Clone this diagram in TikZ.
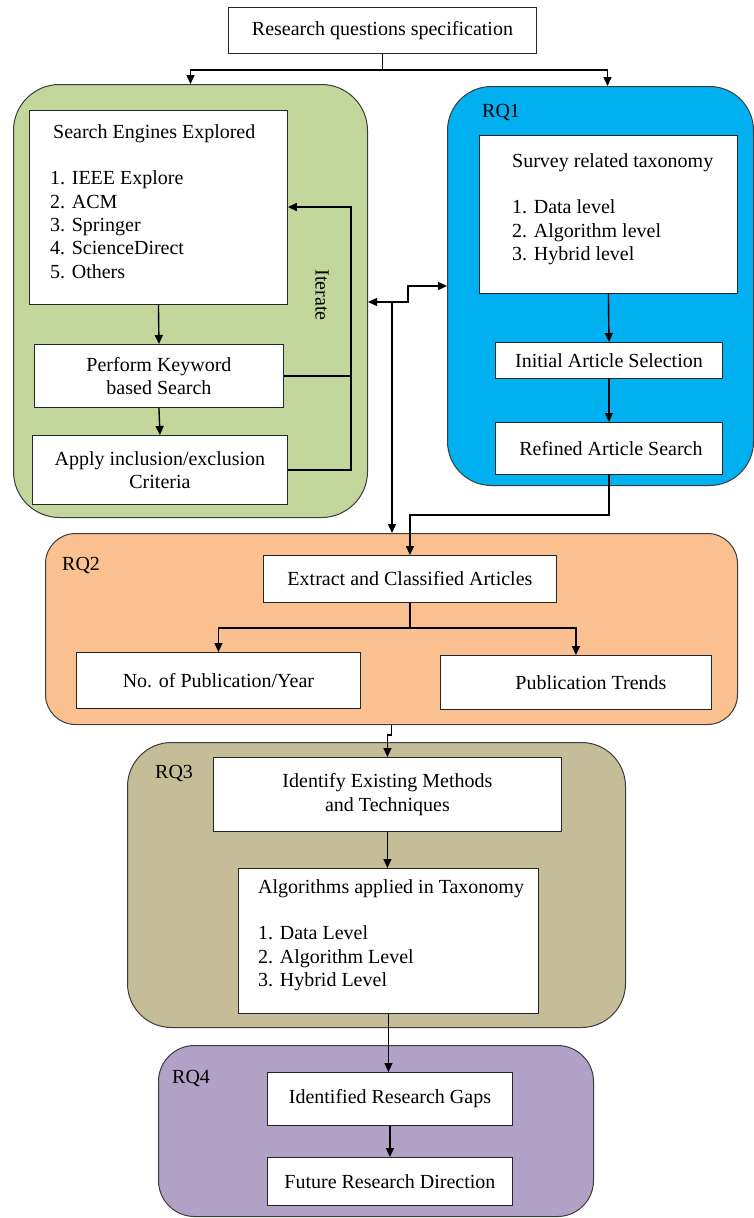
\documentclass[tikz,border=0pt]{standalone}
\usepackage{fontspec}
\setmainfont{Liberation Serif}
\usetikzlibrary{arrows.meta,calc}
\definecolor{cgreen}{RGB}{195,214,155}
\definecolor{cblue}{RGB}{0,176,240}
\definecolor{corange}{RGB}{250,192,143}
\definecolor{ckhaki}{RGB}{196,189,151}
\definecolor{cpurple}{RGB}{178,161,199}
\definecolor{cedge}{RGB}{60,60,60}
\begin{document}
\begin{tikzpicture}[x=1pt,y=-1pt,
  every node/.style={font=\fontsize{20}{23.3}\selectfont},
  grp/.style={draw=cedge, line width=1pt, rounded corners=#1, anchor=north west, inner sep=0},
  box/.style={draw=black!85, fill=white, line width=0.9pt, anchor=north west, inner sep=0, align=center},
  lst/.style={anchor=north west, inner sep=0, align=left},
  lbl/.style={anchor=base west, inner sep=0},
  arr/.style={line width=1.4pt, -{Triangle[length=9pt,width=8pt]}},
  ln/.style={line width=1.3pt}]
\useasboundingbox (0,0) rectangle (754,1218);

% containers
\node[grp=46, fill=cgreen, minimum width=354, minimum height=433] (c1) at (13,84) {};
\node[grp=44, fill=cblue, minimum width=306, minimum height=399] (c2) at (447,86) {};
\node[grp=30, fill=corange, minimum width=692, minimum height=191] (c3) at (45,533) {};
\node[grp=44, fill=ckhaki, minimum width=498, minimum height=285] (c4) at (127,742) {};
\node[grp=36, fill=cpurple, minimum width=435, minimum height=171] (c5) at (158,1045) {};

% group labels
\node[lbl] (rq1) at (482,117) {RQ1};
\node[lbl] (rq2) at (62,570) {RQ2};
\node[lbl] (rq3) at (155,778) {RQ3};
\node[lbl] (rq4) at (172,1083) {RQ4};

% boxes
\node[box, minimum width=308, minimum height=46] (top) at (228,7) {Research questions specification};
\node[box, minimum width=258, minimum height=194] (se) at (29,110) {};
\node[lst] (setx) at (50,124.3) {\hspace*{3pt}Search Engines Explored\\[23.3pt]1. IEEE Explore\\2. ACM\\3. Springer\\4. ScienceDirect\\5. Others};
\node[box, minimum width=249, minimum height=63] (kw) at (34,344) {Perform Keyword\\based Search};
\node[box, minimum width=255, minimum height=69] (ap) at (32,435) {Apply inclusion/exclusion\\Criteria};
\node[rotate=-90, inner sep=0] (iter) at (322,295) {Iterate};

\node[box, minimum width=258, minimum height=158] (sv) at (479,135) {};
\node[lst] (svtx) at (512,153.3) {Survey related taxonomy\\[23.3pt]1. Data level\\2. Algorithm level\\3. Hybrid level};
\node[box, minimum width=227, minimum height=36] (ini) at (495,342) {Initial Article Selection};
\node[box, minimum width=227, minimum height=52] (ref) at (495,422) {\hspace*{4pt}Refined Article Search};

\node[box, minimum width=293, minimum height=47] (ext) at (263,555) {Extract and Classified Articles};
\node[box, minimum width=284, minimum height=56] (np) at (76,652) {No. of Publication/Year};
\node[box, minimum width=271, minimum height=54] (tr) at (440,655) {\hspace*{30pt}Publication Trends};

\node[box, minimum width=348, minimum height=74] (idf) at (213,757) {Identify Existing Methods\\and Techniques};
\node[box, minimum width=300, minimum height=145] (alg) at (238,868) {};
\node[lst] (algtx) at (258,879.3) {Algorithms applied in Taxonomy\\[23.3pt]1. Data Level\\2. Algorithm Level\\3. Hybrid Level};

\node[box, minimum width=245, minimum height=53] (gap) at (267,1072) {Identified Research Gaps};
\node[box, minimum width=245, minimum height=48] (fut) at (267,1157) {Future Research Direction};

% connectors
\coordinate (t1) at ($(top.south)+(0,16)$);
\draw[ln] (top.south) -- (t1);
\draw[arr] (t1) -| (c1.north);
\draw[arr] (t1) -| ($(c2.north)+(7,0)$);

\draw[arr] (se.south) -- (kw.north);
\draw[arr] (kw.south) -- (ap.north);
\coordinate (itA) at (351,207);
\draw[arr] (ap.east) -| (itA) -- (itA -| se.east);
\draw[ln] (kw.east) -- (kw.east -| itA);

\coordinate (jc) at (392,302);
\draw[arr] (jc) -- (jc -| c1.east);
\draw[arr] (jc) -- ++(16,0) |- (c2.west);
\draw[arr] (jc) -- (jc |- c3.north);

\draw[arr] (sv.south) -- (ini.north);
\draw[arr] (ini.south) -- (ref.north);
\draw[arr] (ref.south) -- ++(0,40) -| (ext.north);

\coordinate (ej) at ($(ext.south)+(0,25)$);
\draw[ln] (ext.south) -- (ej);
\draw[arr] (ej) -| (np.north);
\draw[arr] (ej) -| (tr.north);

\draw[arr] (c3.south) -- ++(0,10) -| (idf.north);
\draw[arr] (idf.south) -- (idf.south |- alg.north);
\draw[arr] (alg.south) -- (alg.south |- gap.north);
\draw[arr] (gap.south) -- (fut.north);
\end{tikzpicture}
\end{document}
